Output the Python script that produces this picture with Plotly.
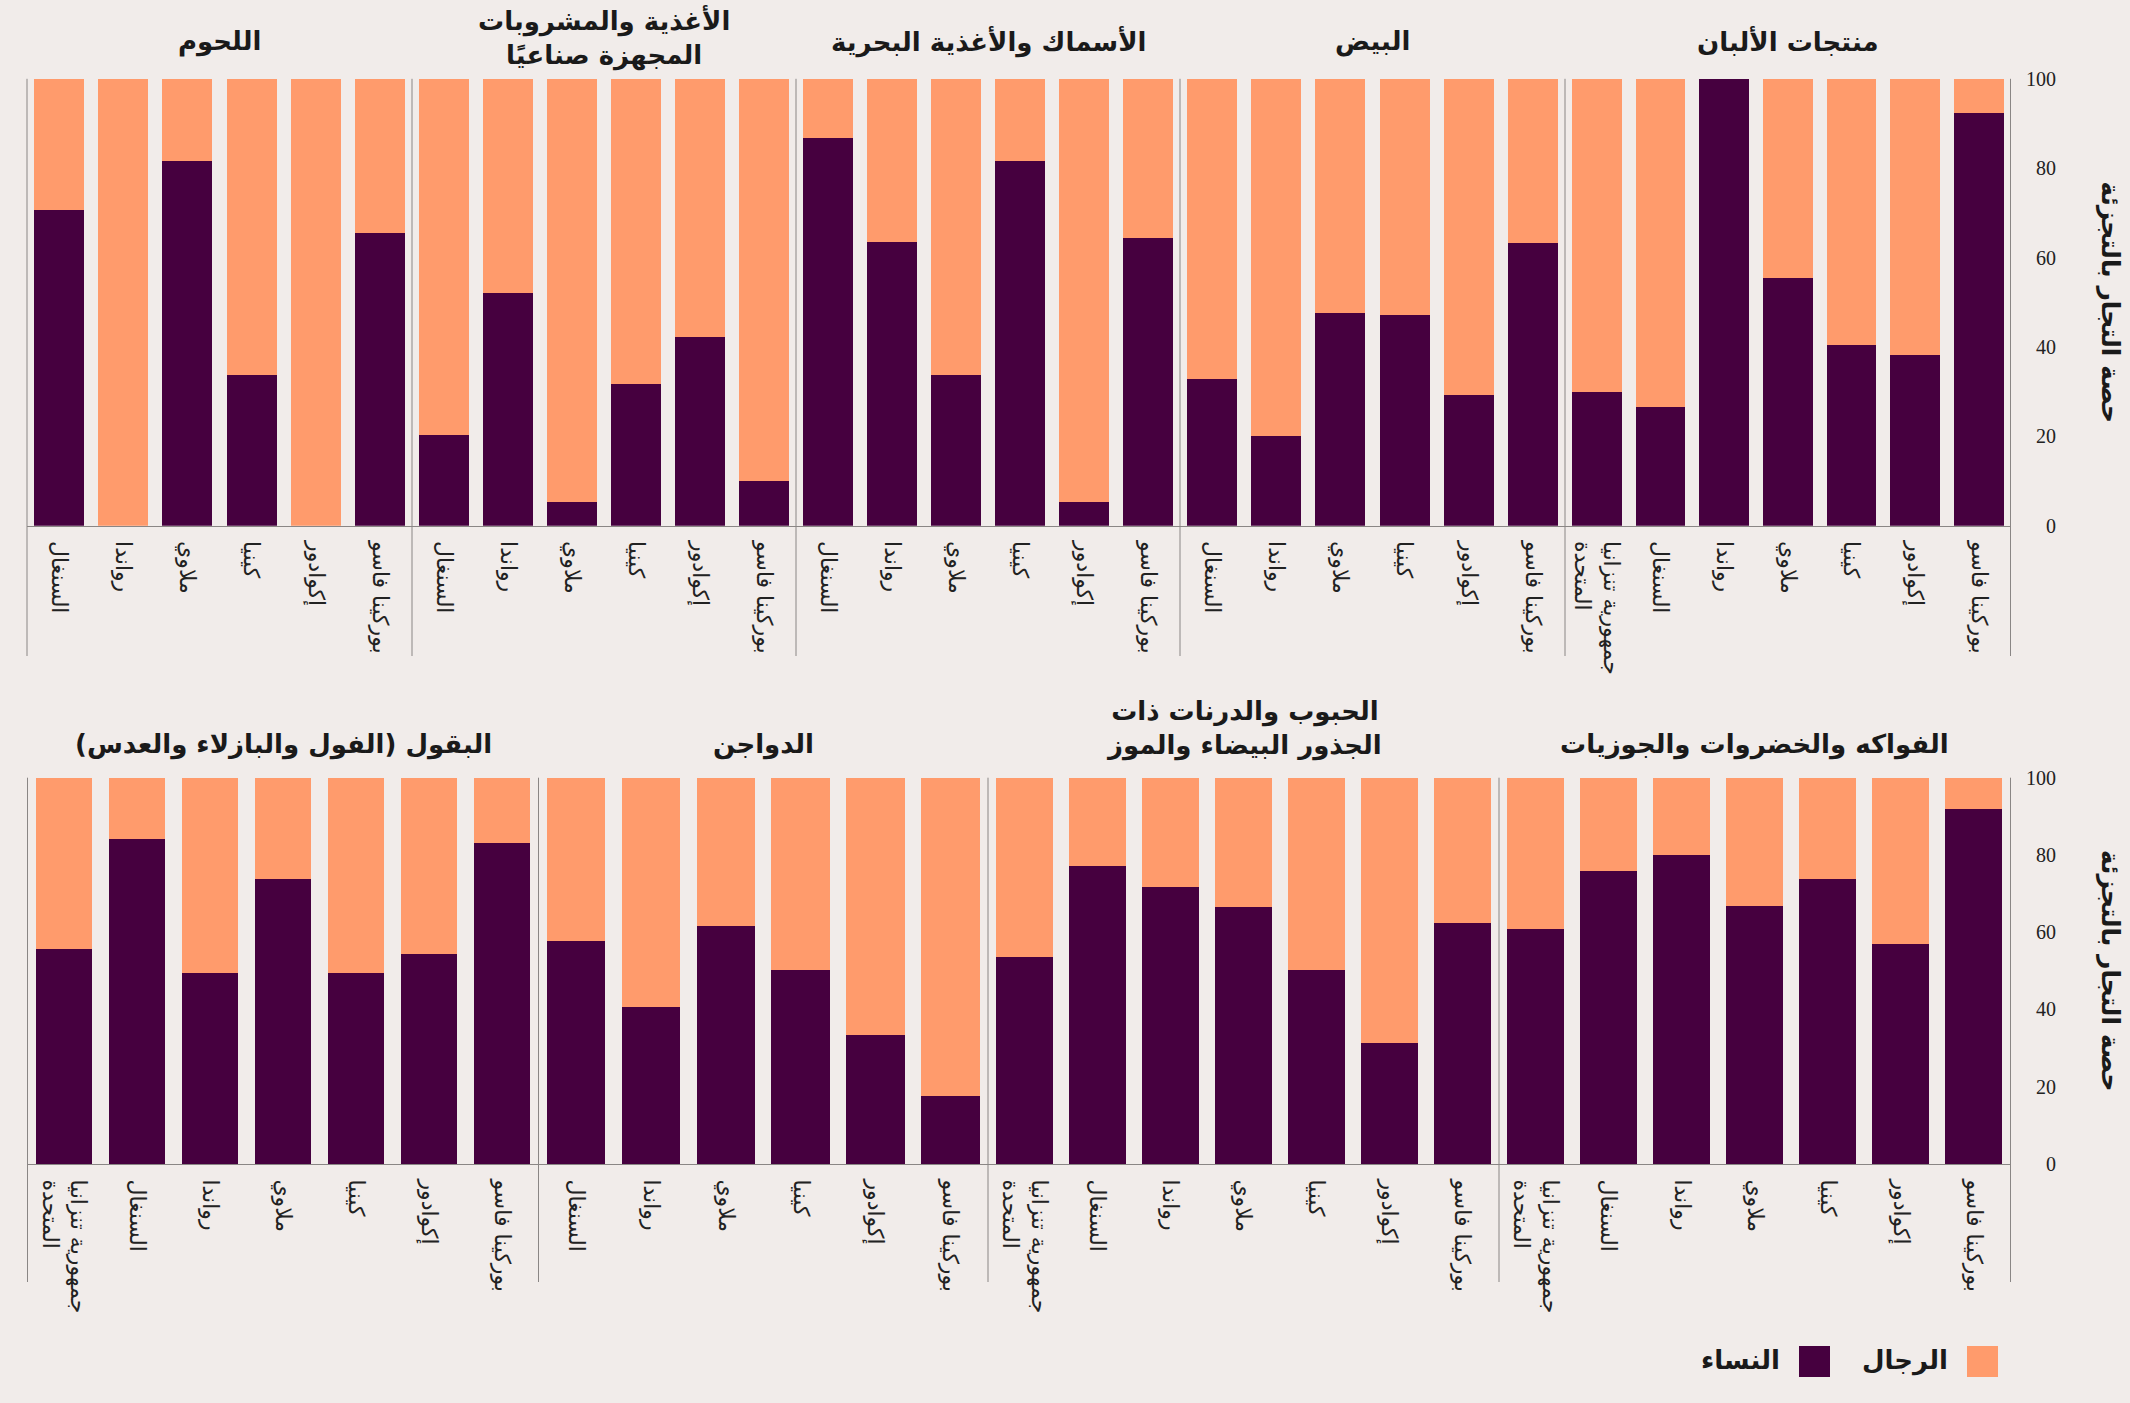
import plotly.graph_objects as go

W, H = 2130, 1403

# ---------------- data ----------------
countries_7 = ["بوركينا فاسو", "إكوادور", "كينيا", "ملاوي", "رواندا", "السنغال", "جمهورية تنزانيا<br>المتحدة"]
countries_6 = countries_7[:6]

dairy_women = [92.3, 38.2, 40.4, 55.5, 100, 26.5, 30.0]
eggs_women = [63.2, 29.3, 47.2, 47.7, 20.1, 32.9]
fish_women = [64.3, 5.2, 81.7, 33.8, 63.4, 86.7]
processed_women = [9.9, 42.3, 31.8, 5.4, 52.0, 20.4]
meat_women = [65.4, 0, 33.8, 81.6, 0, 70.7]

fruits_women = [91.9, 56.9, 73.7, 66.9, 80.1, 75.8, 60.9]
grains_women = [62.3, 31.3, 50.1, 66.5, 71.6, 77.2, 53.5]
poultry_women = [17.5, 33.4, 50.1, 61.6, 40.6, 57.6]
pulses_women = [83.2, 54.3, 49.4, 73.7, 49.4, 84.2, 55.7]

titles_top = ["منتجات الألبان", "البيض", "الأسماك والأغذية البحرية",
              "الأغذية والمشروبات<br>المجهزة صناعيًا", "اللحوم"]
titles_bottom = ["الفواكه والخضروات والجوزيات", "الحبوب والدرنات ذات<br>الجذور البيضاء والموز",
                 "الدواجن", "\u200fالبقول (الفول والبازلاء والعدس)\u200f"]

y_ticks = [0, 20, 40, 60, 80, 100]
y_title = "حصة التجار بالتجزئة"
legend_men = "الرجال"
legend_women = "النساء"

# ---------------- style ----------------
C_WOMEN = "#46003f"
C_MEN = "#ff9b6c"
BG = "#f1ecea"
LINE = "#8a8685"
AR_FONT = "DejaVu Sans"
NUM_FONT = "Liberation Serif"

def px(x):
    return x / W

def py(y):
    return 1 - y / H

# panels: (title, women, categories, x0, x1, row)
panels = [
    (titles_top[0], dairy_women, countries_7, 1565, 2010.5, 0),
    (titles_top[1], eggs_women, countries_6, 1180, 1565, 0),
    (titles_top[2], fish_women, countries_6, 796, 1180, 0),
    (titles_top[3], processed_women, countries_6, 412, 796, 0),
    (titles_top[4], meat_women, countries_6, 27, 412, 0),
    (titles_bottom[0], fruits_women, countries_7, 1499, 2010.5, 1),
    (titles_bottom[1], grains_women, countries_7, 988, 1499, 1),
    (titles_bottom[2], poultry_women, countries_6, 538.5, 988, 1),
    (titles_bottom[3], pulses_women, countries_7, 27.5, 538.5, 1),
]

rows = [
    dict(top=78.8, base=525.7, sep_bottom=656, title_y=42, title2_y=38),
    dict(top=777.7, base=1164, sep_bottom=1282, title_y=744, title2_y=728),
]

fig = go.Figure()
layout = {}
annotations = []
shapes = []

for i, (title, women, cats, x0, x1, r) in enumerate(panels):
    n = i + 1
    xa = "x" if n == 1 else f"x{n}"
    ya = "y" if n == 1 else f"y{n}"
    men = [100 - w for w in women]
    fig.add_trace(go.Bar(x=cats, y=women, marker=dict(color=C_WOMEN, line=dict(width=0)),
                         xaxis=xa, yaxis=ya, name=legend_women, showlegend=False))
    fig.add_trace(go.Bar(x=cats, y=men, marker=dict(color=C_MEN, line=dict(width=0)),
                         xaxis=xa, yaxis=ya, name=legend_men, showlegend=False))
    row = rows[r]
    kx = "xaxis" if n == 1 else f"xaxis{n}"
    ky = "yaxis" if n == 1 else f"yaxis{n}"
    layout[kx] = dict(
        domain=[px(x0), px(x1)], anchor=ya, type="category",
        categoryorder="array", categoryarray=cats,
        range=[len(cats) - 0.5, -0.5],
        tickangle=90, ticks="", showgrid=False, zeroline=False,
        showline=True, linecolor=LINE, linewidth=1,
        tickfont=dict(family=AR_FONT, size=22, color="#222222"),
        ticklabelstandoff=10,
    )
    layout[ky] = dict(
        domain=[py(row["base"]), py(row["top"])], anchor=xa,
        range=[0, 100], showticklabels=False, showgrid=False, zeroline=False,
        showline=False, fixedrange=True,
    )
    # panel title
    nlines = title.count("<br>") + 1
    ty = row["title_y"] if nlines == 1 else row["title2_y"]
    annotations.append(dict(
        text=f"<b>{title}</b>", x=px((x0 + x1) / 2), y=py(ty), xref="paper", yref="paper",
        xanchor="center", yanchor="middle", showarrow=False,
        font=dict(family=AR_FONT, size=26, color="#1a1a1a"), align="center",
    ))
    # separator at left edge of panel
    shapes.append(dict(type="line", xref="paper", yref="paper",
                       x0=px(x0), x1=px(x0), y0=py(row["top"]), y1=py(row["sep_bottom"]),
                       line=dict(color=LINE, width=1)))

# right axis lines, tick labels and axis titles
for r, ref_axis in ((0, "y"), (1, "y6")):
    row = rows[r]
    shapes.append(dict(type="line", xref="paper", yref="paper",
                       x0=px(2010.5), x1=px(2010.5), y0=py(row["top"]), y1=py(row["sep_bottom"]),
                       line=dict(color=LINE, width=1)))
    for v in y_ticks:
        annotations.append(dict(
            text=str(v), x=px(2058), y=v, xref="paper", yref=ref_axis,
            xanchor="right", yanchor="middle", showarrow=False,
            font=dict(family=NUM_FONT, size=20, color="#222222"),
        ))
    annotations.append(dict(
        text=f"<b>{y_title}</b>", x=px(2110), y=py((row["top"] + row["base"]) / 2),
        xref="paper", yref="paper", xanchor="center", yanchor="middle",
        textangle=90, showarrow=False,
        font=dict(family=AR_FONT, size=25, color="#1a1a1a"),
    ))

# legend (drawn manually, right-to-left)
shapes.append(dict(type="rect", xref="paper", yref="paper",
                   x0=px(1967), x1=px(1998), y0=py(1377), y1=py(1346),
                   fillcolor=C_MEN, line=dict(width=0)))
shapes.append(dict(type="rect", xref="paper", yref="paper",
                   x0=px(1799), x1=px(1830), y0=py(1377), y1=py(1346),
                   fillcolor=C_WOMEN, line=dict(width=0)))
annotations.append(dict(text=f"<b>{legend_men}</b>", x=px(1950), y=py(1360), xref="paper", yref="paper",
                        xanchor="right", yanchor="middle", showarrow=False,
                        font=dict(family=AR_FONT, size=26, color="#1a1a1a")))
annotations.append(dict(text=f"<b>{legend_women}</b>", x=px(1782), y=py(1360), xref="paper", yref="paper",
                        xanchor="right", yanchor="middle", showarrow=False,
                        font=dict(family=AR_FONT, size=26, color="#1a1a1a")))

fig.update_layout(
    width=W, height=H, margin=dict(l=0, r=0, t=0, b=0),
    paper_bgcolor=BG, plot_bgcolor=BG,
    barmode="stack", bargap=0.22,
    showlegend=False,
    annotations=annotations, shapes=shapes,
    **layout,
)

post = ("document.body.style.margin='0';"
        "document.body.style.padding='0';"
        "document.body.style.overflow='hidden';"
        f"document.body.style.background='{BG}';")
fig.write_html("out.html", post_script=post, config={"displayModeBar": False})
